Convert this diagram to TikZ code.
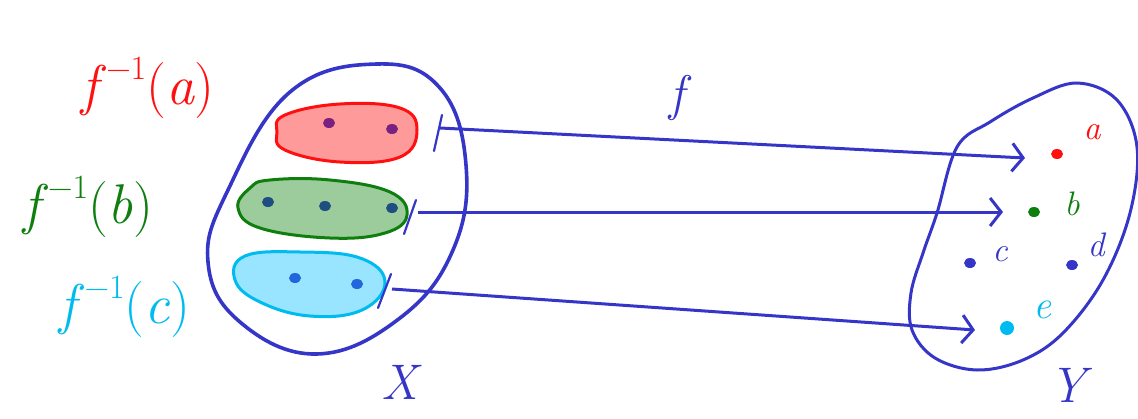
\documentclass[tikz,border=0pt]{standalone}
\usepackage{fontspec}
\usetikzlibrary{arrows.meta}
\definecolor{pen}{HTML}{3535C8}
\definecolor{pred}{HTML}{FF1010}
\definecolor{pgreen}{HTML}{0E7E0E}
\definecolor{pcyan}{HTML}{00BBF0}
\definecolor{fred}{HTML}{FF9A9A}
\definecolor{fgreen}{HTML}{9CCC9C}
\definecolor{fcyan}{HTML}{99E4FF}
\definecolor{dpurple}{HTML}{7A2080}
\definecolor{dnavy}{HTML}{1F4F80}
\definecolor{dblue}{HTML}{2266DD}
\newcommand{\preimg}[1]{\textit{f}\raisebox{0.45em}{\fontsize{34}{34}\selectfont −1}(\textit{#1})}
\tikzset{
  outline/.style={line width=3.6pt, pen, line join=round},
  blob/.style={line width=3pt},
  dotp/.style={ellipse, inner sep=0pt, minimum width=12pt, minimum height=10pt},
  tick/.style={line width=2.2pt, pen, line cap=round},
  maparrow/.style={line width=3pt, pen, -{Straight Barb[length=11pt,width=28pt,line width=3pt]}},
  hand/.style={font=\fontsize{50}{50}\selectfont\itshape, inner sep=0pt},
  small/.style={font=\fontsize{34}{34}\selectfont\itshape, inner sep=0pt},
  preim/.style={font=\fontsize{56}{56}\selectfont, inner sep=0pt}
}
\usetikzlibrary{shapes.geometric}
\begin{document}
\begin{tikzpicture}[x=1pt,y=-1pt]
\useasboundingbox (0,0) rectangle (1138,418);
% set X
\draw[outline] plot[smooth cycle, tension=0.7] coordinates {(290,92) (377,64) (440,88) (466,165) (453,250) (400,318) (317,354) (240,322) (208,262) (228,190)};
% red block
\draw[blob, pred, fill=fred] plot[smooth cycle, tension=0.7] coordinates {(285,115) (340,104) (400,108) (417,130) (400,157) (340,162) (285,150) (277,132)};
\node[dotp, fill=dpurple] (ra) at (329,123) {};
\node[dotp, fill=dpurple] (rb) at (392,129) {};
% green block
\draw[blob, pgreen, fill=fgreen] plot[smooth cycle, tension=0.7] coordinates {(270,180) (330,180) (390,192) (407,215) (385,233) (330,238) (260,228) (238,208) (250,188)};
\node[dotp, fill=dnavy] (ga) at (268,202) {};
\node[dotp, fill=dnavy] (gb) at (325,206) {};
\node[dotp, fill=dnavy] (gc) at (392,208) {};
% cyan block
\draw[blob, pcyan, fill=fcyan] plot[smooth cycle, tension=0.7] coordinates {(245,256) (300,252) (360,258) (385,282) (362,310) (310,316) (260,302) (235,280)};
\node[dotp, fill=dblue] (ca) at (295,278) {};
\node[dotp, fill=dblue] (cb) at (357,284) {};
% ticks
\coordinate (t1a) at (442,115); \coordinate (t1b) at (434,151);
\coordinate (t2a) at (416,200); \coordinate (t2b) at (404,234);
\coordinate (t3a) at (391,274); \coordinate (t3b) at (378,308);
\draw[tick] (t1a) -- (t1b);
\draw[tick] (t2a) -- (t2b);
\draw[tick] (t3a) -- (t3b);
% set Y
\draw[outline, line width=3pt] plot[smooth cycle, tension=0.6] coordinates {(1077,83) (1117,100) (1137,147) (1130,213) (1103,280) (1063,333) (1023,360) (977,370) (935,358) (912,330) (911,293) (923,253) (937,213) (957,147) (990,122) (1033,98)};
\node[dotp, fill=pred] (ya) at (1057,154) {};
\node[dotp, fill=pgreen] (yb) at (1034,212) {};
\node[dotp, fill=pen] (yc) at (970,263) {};
\node[dotp, fill=pen] (yd) at (1072,265) {};
\node[dotp, fill=pcyan, minimum width=14pt, minimum height=14pt] (ye) at (1007,328) {};
\node[small, pred] (la) at (1092,132) {a};
\node[small, pgreen] (lb) at (1072,204) {b};
\node[small, pen] (lc) at (1000,254) {c};
\node[small, pen] (ld) at (1096,245) {d};
\node[small, pcyan, font=\fontsize{40}{40}\selectfont\itshape] (le) at (1042,310) {e};
% arrow end coordinates
\coordinate (s1) at (440,128); \coordinate (e1) at (1025,158);
\coordinate (s2) at (418,212); \coordinate (e2) at (1003,212);
\coordinate (s3) at (392,289); \coordinate (e3) at (975,330);
\draw[maparrow] (s1) -- (e1);
\draw[maparrow] (s2) -- (e2);
\draw[maparrow] (s3) -- (e3);
% labels
\node[hand, pen] (lf) at (677,98) {f};
\node[hand, pen] (lX) at (400,382) {X};
\node[hand, pen] (lY) at (1068,385) {Y};
\node[preim, pred] (pa) at (148,88) {\preimg{a}};
\node[preim, pgreen] (pb) at (88,207) {\preimg{b}};
\node[preim, pcyan] (pc) at (125,307) {\preimg{c}};
\end{tikzpicture}
\end{document}
